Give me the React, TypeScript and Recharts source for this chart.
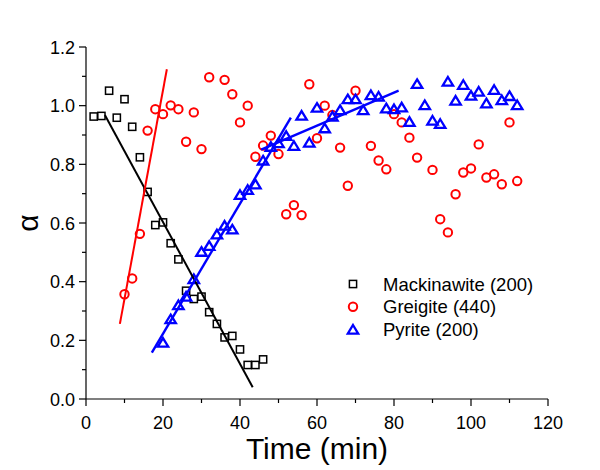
import { ScatterChart, Scatter, XAxis, YAxis } from 'recharts';

// time (min) / alpha readings
const mackinawite: [number, number][] = [
  [2, 0.963], [4, 0.965], [6, 1.051], [8, 0.959], [10, 1.022], [12, 0.928], [14, 0.824],
  [16, 0.706], [18, 0.593], [20, 0.602], [22, 0.531], [24, 0.476], [26, 0.369], [28, 0.341],
  [30, 0.349], [32, 0.296], [34, 0.256], [36, 0.21], [38, 0.215], [40, 0.169], [42, 0.116],
  [44, 0.116], [46, 0.135],
];

const greigite: [number, number][] = [
  [10, 0.357], [12, 0.411], [14, 0.563], [16, 0.915], [18, 0.988], [20, 0.971], [22, 1.001],
  [24, 0.988], [26, 0.877], [28, 0.977], [30, 0.852], [32, 1.097], [36, 1.088], [38, 1.039],
  [40, 0.943], [42, 1.0], [44, 0.826], [46, 0.864], [48, 0.898], [50, 0.835], [52, 0.63],
  [54, 0.661], [56, 0.627], [58, 1.073], [60, 0.889], [62, 1.0], [64, 0.968], [66, 0.857],
  [68, 0.727], [70, 1.051], [74, 0.863], [76, 0.813], [78, 0.783], [80, 0.971], [82, 0.943],
  [84, 0.891], [86, 0.823], [90, 0.781], [92, 0.613], [94, 0.568], [96, 0.698], [98, 0.772],
  [100, 0.786], [102, 0.868], [104, 0.755], [106, 0.766], [108, 0.732], [110, 0.943], [112, 0.743],
];

const pyrite: [number, number][] = [
  [20, 0.192], [22, 0.272], [24, 0.32], [26, 0.349], [28, 0.409], [30, 0.502], [32, 0.522],
  [34, 0.561], [36, 0.591], [38, 0.578], [40, 0.696], [42, 0.713], [44, 0.732], [46, 0.813],
  [48, 0.86], [50, 0.872], [52, 0.897], [54, 0.863], [56, 0.966], [58, 0.874], [60, 0.993],
  [62, 0.923], [64, 0.963], [66, 0.985], [68, 1.022], [70, 1.022], [72, 0.985], [74, 1.036],
  [76, 1.031], [78, 0.991], [80, 0.988], [82, 0.994], [84, 0.945], [86, 1.074], [88, 1.002],
  [90, 0.949], [92, 0.938], [94, 1.082], [96, 1.017], [98, 1.071], [100, 1.034], [102, 1.048],
  [104, 1.008], [106, 1.054], [108, 1.019], [110, 1.033], [112, 1.002],
];

// linear fit segments
const mackinawiteFit: [number, number][] = [[4.9, 0.968], [43.3, 0.04]];
const greigiteFit: [number, number][] = [[8.8, 0.256], [21.0, 1.124]];
const pyriteFitEarly: [number, number][] = [[17.1, 0.158], [53.2, 0.959]];
const pyriteFitLate: [number, number][] = [[45.5, 0.85], [81.2, 1.051]];

const xTicks = [0, 10, 20, 30, 40, 50, 60, 70, 80, 90, 100, 110, 120];
const yTicks = [0, 0.1, 0.2, 0.3, 0.4, 0.5, 0.6, 0.7, 0.8, 0.9, 1.0, 1.1, 1.2];

const FONT = "Arial, 'Liberation Sans', sans-serif";

const toPoints = (arr: [number, number][]) => arr.map(([t, a]) => ({ t, a }));

const SquareMark = ({ cx, cy }: any) => (
  <rect x={cx - 3.6} y={cy - 3.6} width={7.2} height={7.2} fill="none" stroke="#000" strokeWidth={1.5} />
);
const CircleMark = ({ cx, cy }: any) => (
  <circle cx={cx} cy={cy} r={4.2} fill="none" stroke="#ff0000" strokeWidth={2} />
);
const TriangleMark = ({ cx, cy }: any) => (
  <path
    d={`M${cx},${cy - 4.6} L${cx + 5.2},${cy + 4} L${cx - 5.2},${cy + 4} Z`}
    fill="none"
    stroke="#0000ff"
    strokeWidth={2.3}
    strokeLinejoin="miter"
  />
);
const NoMark = () => <g />;

const series = [
  { name: 'Mackinawite (200)', data: mackinawite, Mark: SquareMark },
  { name: 'Greigite (440)', data: greigite, Mark: CircleMark },
  { name: 'Pyrite (200)', data: pyrite, Mark: TriangleMark },
];

const fits = [
  { key: 'mf', data: mackinawiteFit, color: '#000000', width: 2 },
  { key: 'gf', data: greigiteFit, color: '#ff0000', width: 2 },
  { key: 'pf1', data: pyriteFitEarly, color: '#0000ff', width: 2.4 },
  { key: 'pf2', data: pyriteFitLate, color: '#0000ff', width: 2.4 },
];

const XTick = ({ x, y, payload }: any) => {
  const major = payload.value % 20 === 0;
  return (
    <g>
      <line x1={x} y1={y} x2={x} y2={y + (major ? 7 : 4)} stroke="#000" strokeWidth={1.2} />
      {major && (
        <text x={x} y={y + 30} textAnchor="middle" fontSize={18} fontFamily={FONT} fill="#000">
          {payload.value}
        </text>
      )}
    </g>
  );
};

const YTick = ({ x, y, payload }: any) => {
  const major = Math.round(payload.value * 10) % 2 === 0;
  return (
    <g>
      <line x1={x} y1={y} x2={x - (major ? 7 : 4)} y2={y} stroke="#000" strokeWidth={1.2} />
      {major && (
        <text x={x - 11} y={y + 6.5} textAnchor="end" fontSize={18} fontFamily={FONT} fill="#000">
          {payload.value.toFixed(1)}
        </text>
      )}
    </g>
  );
};

const Legendbox = () => (
  <svg width={240} height={80} style={{ position: 'absolute', left: 340, top: 270 }}>
    {series.map((s, i) => {
      const cy = 14 + i * 22.8;
      return (
        <g key={s.name}>
          <s.Mark cx={13} cy={cy} />
          <text x={43} y={cy + 6.5} fontSize={18.5} fontFamily={FONT} fill="#000">
            {s.name}
          </text>
        </g>
      );
    })}
  </svg>
);

export default function App() {
  return (
    <div style={{ position: 'absolute', left: 0, top: 0, width: 600, height: 470, background: '#fff' }}>
      <ScatterChart width={600} height={470} margin={{ top: 47, right: 52, bottom: 0, left: 0 }}>
        <XAxis
          dataKey="t"
          type="number"
          domain={[0, 120]}
          ticks={xTicks}
          interval={0}
          height={71}
          tickSize={0}
          tickMargin={0}
          tick={<XTick />}
          axisLine={{ stroke: '#000', strokeWidth: 1.2 }}
          allowDataOverflow
          label={{
            content: ({ viewBox }: any) => (
              <text
                x={viewBox.x + viewBox.width / 2}
                y={viewBox.y + 60}
                textAnchor="middle"
                fontSize={30}
                fontFamily={FONT}
                fill="#000"
              >
                Time (min)
              </text>
            ),
          }}
        />
        <YAxis
          dataKey="a"
          type="number"
          domain={[0, 1.2]}
          ticks={yTicks}
          interval={0}
          width={86}
          tickSize={0}
          tickMargin={0}
          tick={<YTick />}
          axisLine={{ stroke: '#000', strokeWidth: 1.2 }}
          allowDataOverflow
          label={{
            content: ({ viewBox }: any) => {
              const cy = viewBox.y + viewBox.height / 2;
              return (
                <text
                  x={30}
                  y={cy}
                  textAnchor="middle"
                  fontSize={30}
                  fontFamily={FONT}
                  fill="#000"
                  transform={`rotate(-90, 30, ${cy})`}
                  dy={8}
                >
                  α
                </text>
              );
            },
          }}
        />
        {series.map((s) => (
          <Scatter
            key={s.name}
            name={s.name}
            data={toPoints(s.data)}
            shape={<s.Mark />}
            isAnimationActive={false}
          />
        ))}
        {fits.map((f) => (
          <Scatter
            key={f.key}
            data={toPoints(f.data)}
            line={{ stroke: f.color, strokeWidth: f.width }}
            shape={<NoMark />}
            isAnimationActive={false}
          />
        ))}
      </ScatterChart>
      <Legendbox />
    </div>
  );
}
